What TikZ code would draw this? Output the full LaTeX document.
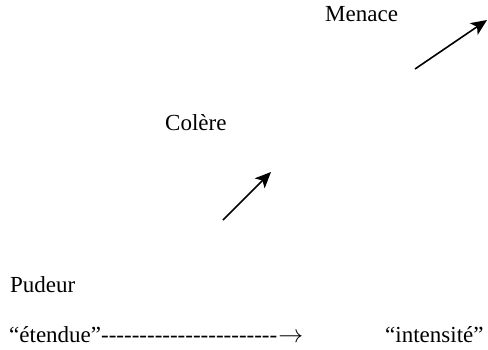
\documentclass[tikz,border=0pt]{standalone}
\usepackage{fontspec}
\setmainfont{Liberation Serif}
\usetikzlibrary{arrows.meta}
\newcommand\hyphenrun{-{}-{}-{}-{}-{}-{}-{}-{}-{}-{}-{}-{}-{}-{}-{}-{}-{}-{}-{}-{}-{}-{}-}
\begin{document}
\begin{tikzpicture}[x=1pt,y=-1pt,
  lbl/.style={inner sep=0pt, anchor=base west, font=\fontsize{23}{28}\selectfont},
  vec/.style={line width=1.6pt, -{Stealth[length=16pt,width=14pt,inset=4pt]}}]
\useasboundingbox (0,0) rectangle (488,349);
% emotion labels
\node[lbl] (menace) at (325,21) {Menace};
\node[lbl] (colere) at (165,130) {Colère};
\node[lbl] (pudeur) at (10,292) {Pudeur};
% axis line, set as text
\node[lbl] (etendue) at (9,342) {“étendue”\hyphenrun\kern1pt$\rightarrow$};
\node[lbl] (intensite) at (385,342) {“intensité”};
% growth arrows
\coordinate (u1) at (415,69);
\coordinate (u2) at (487,20);
\coordinate (l1) at (223,220);
\coordinate (l2) at (271,172);
\draw[vec] (u1) -- (u2);
\draw[vec] (l1) -- (l2);
\end{tikzpicture}
\end{document}
